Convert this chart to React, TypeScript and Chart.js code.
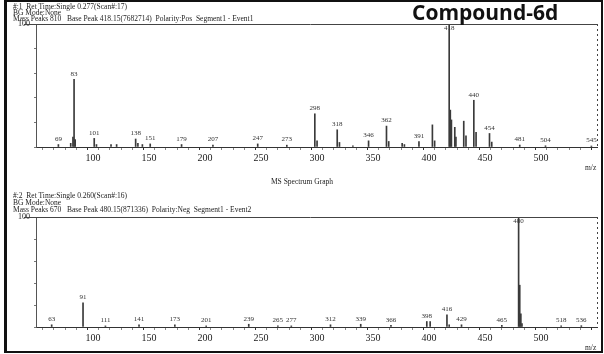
import React, { useEffect, useRef } from "react";
import { Chart, registerables } from "chart.js";
Chart.register(...registerables);

// ---- Spectrum #1 (positive) ----
const topMz = [69, 80, 82, 83, 84, 101, 103, 116, 121, 138, 140, 144, 151, 179, 207, 247, 273, 298, 300, 318, 320, 332, 346, 362, 364, 376, 378, 391, 403, 405, 418, 419, 420, 423, 424, 431, 433, 440, 442, 454, 456, 481, 504, 545];
const topIntensity = [2, 3, 8, 55, 6, 7, 2, 2, 2, 6.5, 3, 2, 2.5, 2, 1.5, 2.5, 1.5, 27, 5, 14, 3.7, 1, 5, 17, 4.5, 3, 2, 4.5, 18, 5, 100, 30, 22, 16, 8, 21, 9, 38, 12, 11, 4, 1.6, 1, 0.8];
const topLabels = [69, 83, 101, 138, 151, 179, 207, 247, 273, 298, 318, 346, 362, 391, 418, 440, 454, 481, 504, 545];

// ---- Spectrum #2 (negative) ----
const bottomMz = [63, 91, 111, 141, 173, 201, 239, 265, 277, 312, 339, 366, 398, 401, 416, 418, 429, 465, 480, 481, 482, 483, 518, 536];
const bottomIntensity = [2, 22, 1, 2, 2, 1, 2.5, 1, 1, 2, 2.5, 1.5, 5, 5, 11, 2, 2, 1.5, 100, 38, 12, 3, 1, 1.2];
const bottomLabels = [63, 91, 111, 141, 173, 201, 239, 265, 277, 312, 339, 366, 398, 416, 429, 465, 480, 518, 536];

const xTickLabels = [100, 150, 200, 250, 300, 350, 400, 450, 500];
const yTickLabels = [100];

const SERIF = "'Liberation Serif', 'DejaVu Serif', serif";

const peakLabelPlugin = {
  id: "peakLabels",
  afterDatasetsDraw(chart: any, _args: any, opts: any) {
    const { ctx, chartArea } = chart;
    const meta = chart.getDatasetMeta(0);
    const mzs: number[] = opts.mz;
    const labels: number[] = opts.labels;
    ctx.save();
    ctx.font = `7px ${SERIF}`;
    ctx.fillStyle = "#333";
    ctx.textAlign = "center";
    ctx.textBaseline = "bottom";
    labels.forEach((m) => {
      const i = mzs.indexOf(m);
      if (i < 0) return;
      const el = meta.data[i];
      const y = Math.max(el.y - 2, chartArea.top + 8);
      ctx.fillText(String(m), el.x, y);
    });
    ctx.restore();
  },
};

const framePlugin = {
  id: "frame",
  afterDraw(chart: any) {
    const { ctx, chartArea } = chart;
    ctx.save();
    ctx.strokeStyle = "#444";
    ctx.lineWidth = 1;
    ctx.beginPath();
    ctx.moveTo(chartArea.left - 12, chartArea.top + 0.5);
    ctx.lineTo(chartArea.right, chartArea.top + 0.5);
    ctx.stroke();
    ctx.setLineDash([2, 3]);
    ctx.beginPath();
    ctx.moveTo(chartArea.right + 0.5, chartArea.top);
    ctx.lineTo(chartArea.right + 0.5, chartArea.bottom);
    ctx.stroke();
    ctx.restore();
  },
};

function makeConfig(mz: number[], inten: number[], labels: number[], padTop: number, xHeight: number): any {
  return {
    type: "bar",
    data: {
      datasets: [
        {
          data: mz.map((m, i) => ({ x: m, y: inten[i] })),
          backgroundColor: "#3a3a3a",
          barThickness: 1,
          borderWidth: 0,
        },
      ],
    },
    options: {
      animation: false,
      responsive: false,
      devicePixelRatio: 1,
      layout: { padding: { top: padTop, right: 7, left: 0, bottom: 0 } },
      plugins: {
        legend: { display: false },
        tooltip: { enabled: false },
        peakLabels: { mz, labels },
      },
      scales: {
        x: {
          type: "linear",
          min: 49,
          max: 550,
          offset: false,
          afterBuildTicks(scale: any) {
            const t = [];
            for (let v = 50; v <= 550; v += 10) t.push({ value: v });
            scale.ticks = t;
          },
          afterFit(scale: any) {
            scale.height = xHeight;
          },
          ticks: {
            autoSkip: false,
            maxRotation: 0,
            padding: 2,
            color: "#222",
            font: { family: SERIF, size: 10 },
            callback: (v: number) => (xTickLabels.includes(v) ? String(v) : ""),
          },
          grid: {
            drawOnChartArea: false,
            tickLength: 3,
            tickColor: (c: any) => (c.tick && c.tick.value % 50 === 0 ? "#333" : "#888"),
          },
          border: { display: true, color: "#333", width: 1 },
        },
        y: {
          min: 0,
          max: 100,
          afterFit(scale: any) {
            scale.width = 36;
          },
          ticks: {
            stepSize: 10,
            padding: 4,
            color: "#222",
            font: { family: SERIF, size: 8 },
            callback: (v: number) => (yTickLabels.includes(v) ? String(v) : ""),
          },
          grid: { drawOnChartArea: false, tickLength: 2, tickColor: "#777" },
          border: { display: true, color: "#555", dash: [1, 3], width: 1 },
        },
      },
    },
    plugins: [peakLabelPlugin, framePlugin],
  };
}

const textStyle: React.CSSProperties = {
  position: "absolute",
  fontFamily: SERIF,
  fontSize: 7.5,
  lineHeight: "8px",
  color: "#222",
  whiteSpace: "nowrap",
};

export default function App() {
  const topRef = useRef<HTMLCanvasElement>(null);
  const botRef = useRef<HTMLCanvasElement>(null);

  useEffect(() => {
    const c1 = new Chart(topRef.current!, makeConfig(topMz, topIntensity, topLabels, 24, 28));
    const c2 = new Chart(botRef.current!, makeConfig(bottomMz, bottomIntensity, bottomLabels, 42, 27));
    return () => {
      c1.destroy();
      c2.destroy();
    };
  }, []);

  return (
    <div style={{ position: "absolute", left: 0, top: 0, width: 604, height: 354, background: "#fff", overflow: "hidden" }}>
      <canvas ref={topRef} width={604} height={175} style={{ position: "absolute", left: 0, top: 0 }} />
      <canvas ref={botRef} width={604} height={179} style={{ position: "absolute", left: 0, top: 175 }} />

      <div style={{ ...textStyle, left: 13, top: 2.5 }}>#:1&nbsp;&nbsp;Ret Time:Single 0.277(Scan#:17)</div>
      <div style={{ ...textStyle, left: 13, top: 8.5 }}>BG Mode:None</div>
      <div style={{ ...textStyle, left: 13, top: 14.5 }}>
        Mass Peaks 810&nbsp;&nbsp;&nbsp;Base Peak 418.15(7682714)&nbsp;&nbsp;Polarity:Pos&nbsp;&nbsp;Segment1 - Event1
      </div>
      <div
        style={{
          position: "absolute",
          left: 412,
          top: 1,
          fontFamily: "'Open Sans', 'Noto Sans', sans-serif",
          fontWeight: 700,
          fontSize: 21,
          lineHeight: "23px",
          color: "#111",
        }}
      >
        Compound-6d
      </div>
      <div style={{ ...textStyle, left: 585, top: 164 }}>m/z</div>
      <div style={{ ...textStyle, left: 0, width: 604, textAlign: "center", top: 178 }}>MS Spectrum Graph</div>

      <div style={{ ...textStyle, left: 13, top: 192 }}>#:2&nbsp;&nbsp;Ret Time:Single 0.260(Scan#:16)</div>
      <div style={{ ...textStyle, left: 13, top: 199 }}>BG Mode:None</div>
      <div style={{ ...textStyle, left: 13, top: 206 }}>
        Mass Peaks 670&nbsp;&nbsp;&nbsp;Base Peak 480.15(871336)&nbsp;&nbsp;Polarity:Neg&nbsp;&nbsp;Segment1 - Event2
      </div>
      <div style={{ ...textStyle, left: 585, top: 344 }}>m/z</div>

      <div
        style={{
          position: "absolute",
          left: 4,
          top: 0,
          width: 594,
          height: 349,
          borderTop: "2px solid #111",
          borderRight: "2px solid #111",
          borderBottom: "2px solid #111",
          borderLeft: "3px solid #111",
          pointerEvents: "none",
        }}
      />
    </div>
  );
}
